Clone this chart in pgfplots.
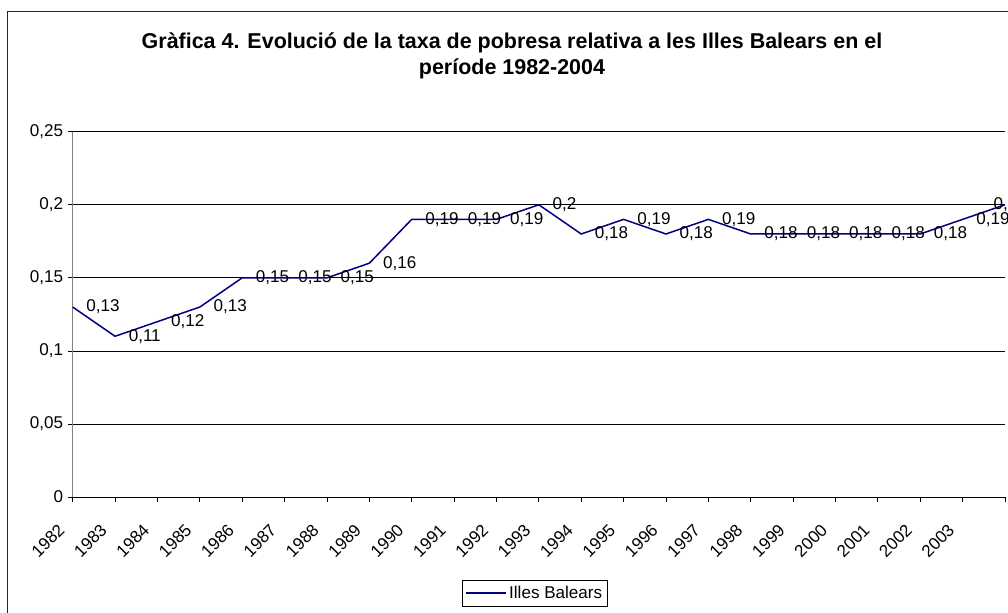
\documentclass[border=0pt]{standalone}
\usepackage{fontspec}
\setmainfont{Liberation Sans}
\usepackage{pgfplots}
\pgfplotsset{compat=1.18}
\usepackage{pgfplotstable}
\newlength\px
\setlength\px{0.75pt}
\definecolor{linenavy}{RGB}{0,0,128}

\pgfplotstableread{
year val lab
1982 0.13 0,13
1983 0.11 0,11
1984 0.12 0,12
1985 0.13 0,13
1986 0.15 0,15
1987 0.15 0,15
1988 0.15 0,15
1989 0.16 0,16
1990 0.19 0,19
1991 0.19 0,19
1992 0.19 0,19
1993 0.20 0,2
1994 0.18 0,18
1995 0.19 0,19
1996 0.18 0,18
1997 0.19 0,19
1998 0.18 0,18
1999 0.18 0,18
2000 0.18 0,18
2001 0.18 0,18
2002 0.18 0,18
2003 0.19 0,19
2004 0.20 0,2
}\datatable

\begin{document}
\begin{tikzpicture}
\clip (-72.7\px,-115\px) rectangle (935.3\px,497\px);
\draw[line width=1.5\px, black!85] (-65.4\px,485.3\px) rectangle (945\px,-125\px);
\node[font=\bfseries\fontsize{16.1}{18}\selectfont, anchor=base, inner sep=0pt] at (439.3\px,449\px) {Gràfica 4. Evolució de la taxa de pobresa relativa a les Illes Balears en el};
\node[font=\bfseries\fontsize{16.1}{18}\selectfont, anchor=base, inner sep=0pt] at (439.3\px,422\px) {període 1982-2004};
\begin{axis}[
  at={(0,0)}, anchor=south west,
  scale only axis, width=932.3\px, height=365.3\px,
  xmin=1982, xmax=2004, ymin=0, ymax=0.25,
  clip=false,
  axis x line*=bottom, axis y line*=left,
  x axis line style={black, line width=0.75\px},
  y axis line style={gray, line width=1.2\px},
  xtick={1982,1983,...,2004},
  xticklabels={1982,1983,1984,1985,1986,1987,1988,1989,1990,1991,1992,1993,1994,1995,1996,1997,1998,1999,2000,2001,2002,2003,{}},
  ytick={0,0.05,0.1,0.15,0.2,0.25},
  yticklabels={0,{0,05},{0,1},{0,15},{0,2},{0,25}},
  tick align=outside, major tick length=5\px,
  tick style={black, line width=0.75\px},
  ymajorgrids, grid style={black, line width=0.75\px},
  tick label style={font=\fontsize{12.8}{14}\selectfont},
  xticklabel style={xshift=-8\px, yshift=-22\px, rotate=45, anchor=east},
  legend style={at={(0.4172,-0.2272)}, anchor=north west, draw=black, line width=0.75\px,
    font=\fontsize{12.8}{14}\selectfont, inner xsep=3\px, inner ysep=3\px},
  legend image code/.code={\draw[#1, line width=1.5\px] (0,0) -- (40\px,0);},
]
\addplot[color=linenavy, line width=1.5\px] table[x=year,y=val]{\datatable};
\addlegendentry{Illes Balears}
\addplot[draw=none, forget plot, restrict x to domain=1982:2003,
  point meta=explicit symbolic, nodes near coords, nodes near coords align={horizontal},
  every node near coord/.append style={anchor=west, xshift=9\px, font=\fontsize{12.8}{14}\selectfont, text=black}]
  table[x=year,y=val,meta=lab]{\datatable};
\addplot[draw=none, forget plot, restrict x to domain=2004:2004,
  point meta=explicit symbolic, nodes near coords, nodes near coords align={horizontal},
  every node near coord/.append style={anchor=west, xshift=-16\px, font=\fontsize{12.8}{14}\selectfont, text=black}]
  table[x=year,y=val,meta=lab]{\datatable};
\end{axis}
\end{tikzpicture}
\end{document}
